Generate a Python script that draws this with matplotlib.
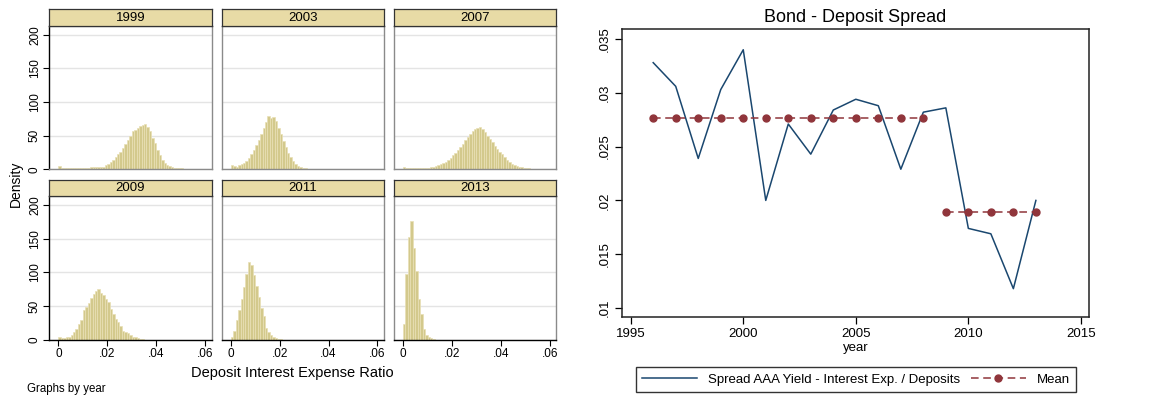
import numpy as np
import matplotlib
matplotlib.use('Agg')
import matplotlib.pyplot as plt

plt.rcParams['font.family'] = ['Liberation Sans', 'DejaVu Sans']

# histogram heights (density), bins of width 0.001 starting at 0
years_hist = ['1999', '2003', '2007', '2009', '2011', '2013']
dens_1999 = [5, 2, 1.5, 1.5, 2, 2, 2, 2, 2, 2.5, 2.5, 2.5, 2.5, 3, 3, 3, 4, 4, 4, 6,
             8, 11, 14, 18, 22, 26, 31, 37, 44, 50, 57, 58, 62, 65, 66, 68, 63, 57,
             47, 39, 29, 21, 14, 10, 6, 4.5, 3.5, 2.5, 2, 2, 2, 1, 1, 1, 1, 1, 0.5, 0.5]
dens_2003 = [7, 5, 4, 6, 8, 10, 13, 17, 22, 29, 36, 44, 53, 62, 70, 79, 76, 77, 72,
             62, 52, 42, 33, 24, 18, 12, 8, 5, 3.5, 2.5, 1.5, 1, 0.7, 0.4]
dens_2007 = [4, 2, 1.5, 1.5, 1.5, 1.5, 1.5, 2, 2, 2, 2.5, 3, 4, 5, 6, 8, 9, 11, 14,
             17, 21, 24, 28, 33, 38, 43, 48, 53, 57, 60, 62, 63, 60, 56, 50, 45, 40,
             35, 30, 26, 22, 18, 14, 11, 8, 6, 5, 4, 3, 2.5, 2, 1.5, 1]
dens_2009 = [4, 3, 3, 4, 5, 8, 12, 17, 23, 30, 44, 49, 55, 62, 68, 72, 75, 70, 66,
             61, 56, 46, 38, 31, 26, 21, 14, 12, 11, 7, 5, 4, 3, 2, 1]
dens_2011 = [5, 14, 29, 45, 61, 78, 97, 115, 111, 96, 80, 64, 48, 35, 18, 12, 7, 4,
             2.5, 1.5, 0.8, 0.5]
dens_2013 = [23, 97, 153, 176, 136, 102, 61, 38, 16, 8, 5, 2.5, 1]
all_dens = [dens_1999, dens_2003, dens_2007, dens_2009, dens_2011, dens_2013]
bin_width = 0.001

# spread series
years = [1996, 1997, 1998, 1999, 2000, 2001, 2002, 2003, 2004, 2005, 2006, 2007,
         2008, 2009, 2010, 2011, 2012, 2013]
spread = [0.0328, 0.0306, 0.0239, 0.0303, 0.0340, 0.0200, 0.0271, 0.0243, 0.0284,
          0.0294, 0.0288, 0.0229, 0.0282, 0.0286, 0.0174, 0.0169, 0.0118, 0.0200]
mean_years_1 = [1996, 1997, 1998, 1999, 2000, 2001, 2002, 2003, 2004, 2005, 2006,
                2007, 2008]
mean_years_2 = [2009, 2010, 2011, 2012, 2013]
mean_1 = 0.0277
mean_2 = 0.0189

W, H = 1167, 396
fig = plt.figure(figsize=(W / 100, H / 100), dpi=100)


def px(l, t, r, b):
    return [l / W, 1 - b / H, (r - l) / W, (b - t) / H]


bar_col = '#d3c98c'
strip_col = '#e8dba6'
lefts = [49.3, 221.7, 394.0]
pw = 162.4
rows = [(9.3, 26.0, 169.3), (180.0, 196.0, 340.0)]

for k, (name, dens) in enumerate(zip(years_hist, all_dens)):
    r, c = divmod(k, 3)
    st, pt, pb = rows[r]
    l = lefts[c]
    ax = fig.add_axes(px(l, pt, l + pw, pb))
    xs = np.arange(len(dens)) * bin_width
    ax.bar(xs, dens, width=bin_width, align='edge', color=bar_col,
           edgecolor='#e9e0b6', linewidth=0.5, zorder=2)
    ax.set_xlim(-0.0037, 0.0627)
    ax.set_ylim(0, 213)
    ax.set_yticks([0, 50, 100, 150, 200])
    ax.set_xticks([0, 0.02, 0.04, 0.06])
    ax.grid(axis='y', color='#e4e4e4', linewidth=1, zorder=0)
    ax.set_axisbelow(True)
    for s in ax.spines.values():
        s.set_color('#8a8a8a')
        s.set_linewidth(1)
    if c == 0:
        ax.spines['left'].set_color('black')
        ax.set_yticklabels(['0', '50', '100', '150', '200'], rotation=90,
                           va='center', fontsize=8.5)
        ax.tick_params(axis='y', length=4, width=0.8, pad=2)
    else:
        ax.tick_params(axis='y', left=False, labelleft=False)
    if r == 1:
        ax.spines['bottom'].set_color('black')
        ax.set_xticklabels(['0', '.02', '.04', '.06'], fontsize=8.5)
        ax.tick_params(axis='x', length=4, width=0.8, pad=2)
    else:
        ax.tick_params(axis='x', bottom=False, labelbottom=False)

    sx = fig.add_axes(px(l, st, l + pw, pt))
    sx.set_facecolor(strip_col)
    sx.set_xticks([])
    sx.set_yticks([])
    for s in sx.spines.values():
        s.set_color('#333333')
        s.set_linewidth(0.9)
    sx.text(0.5, 0.5, name, ha='center', va='center', fontsize=9.5,
            transform=sx.transAxes)

fig.text(16 / W, 1 - 184 / H, 'Density', rotation=90, ha='center', va='center',
         fontsize=10)
fig.text(292 / W, 1 - 373 / H, 'Deposit Interest Expense Ratio', ha='center',
         va='center', fontsize=10.5)
fig.text(27 / W, 1 - 389 / H, 'Graphs by year', ha='left', va='center',
         fontsize=8.3)

# right chart
ax2 = fig.add_axes(px(621.7, 29.3, 1089, 317.3))
ax2.plot(years, spread, color='#1a476f', linewidth=1.1,
         label='Spread AAA Yield - Interest Exp. / Deposits')
ax2.plot(mean_years_1, [mean_1] * len(mean_years_1), color='#90353b',
         linestyle=(0, (5, 3)), linewidth=1.1, marker='o', markersize=5,
         label='Mean')
ax2.plot(mean_years_2, [mean_2] * len(mean_years_2), color='#90353b',
         linestyle=(0, (5, 3)), linewidth=1.1, marker='o', markersize=5)
ax2.set_xlim(1994.6, 2015.36)
ax2.set_ylim(0.00914, 0.0359)
ax2.set_xticks([1995, 2000, 2005, 2010, 2015])
ax2.set_xticklabels(['1995', '2000', '2005', '2010', '2015'], fontsize=9.5)
ax2.set_yticks([0.01, 0.015, 0.02, 0.025, 0.03, 0.035])
ax2.set_yticklabels(['.01', '.015', '.02', '.025', '.03', '.035'], rotation=90,
                    va='center', fontsize=9.5)
ax2.tick_params(length=5, width=0.9, pad=3)
for s in ax2.spines.values():
    s.set_color('#222222')
    s.set_linewidth(1.1)
ax2.set_title('Bond - Deposit Spread', fontsize=13, pad=5)
ax2.set_xlabel('year', fontsize=9.5, labelpad=1)

leg = ax2.legend(loc='center', ncol=2, mode='expand',
                 bbox_to_anchor=(635.7 / W, 1 - 393.3 / H, 440 / W, 27.6 / H),
                 bbox_transform=fig.transFigure, fontsize=9.5, frameon=True,
                 fancybox=False, edgecolor='black', handlelength=4.2,
                 borderaxespad=0, borderpad=0.45, columnspacing=2.5)
leg.get_frame().set_linewidth(1)

fig.savefig('out.png', dpi=100)
